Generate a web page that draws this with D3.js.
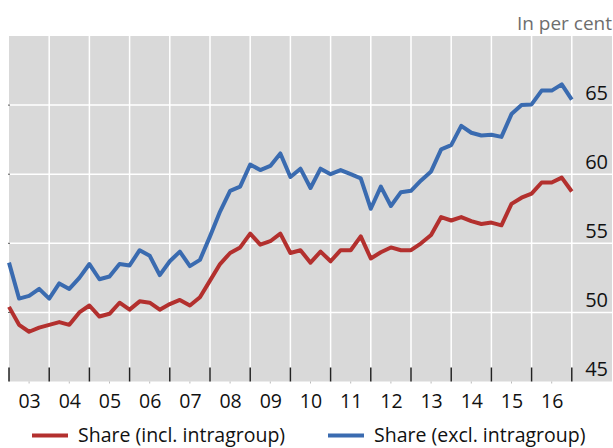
<!DOCTYPE html>
<html>
<head>
  <meta charset="utf-8">
  <title>Share in per cent</title>
  <script src="https://d3js.org/d3.v7.min.js"></script>
  <style>
    body { margin: 0; background: #fff; }
    text { font-family: "Open Sans", "Noto Sans", sans-serif; fill: #111; }
  </style>
</head>
<body>
  <svg id="chart"></svg>

  <script>
    // Quarterly series, first quarter of 2003 to end of 2016
    const startYear = 2003;
    const yearLabels = ["03", "04", "05", "06", "07", "08", "09", "10", "11", "12", "13", "14", "15", "16"];
    const yTicks = [45, 50, 55, 60, 65];

    const shareIncl = [
      50.4, 49.1, 48.6, 48.9, 49.1, 49.3, 49.1, 50.0, 50.5, 49.7,
      49.9, 50.7, 50.2, 50.8, 50.7, 50.2, 50.6, 50.9, 50.5, 51.1,
      52.3, 53.5, 54.3, 54.7, 55.7, 54.9, 55.15, 55.7, 54.3, 54.5,
      53.6, 54.4, 53.7, 54.5, 54.5, 55.5, 53.9, 54.35, 54.7, 54.5,
      54.5, 55.0, 55.6, 56.9, 56.65, 56.9, 56.6, 56.4, 56.5, 56.3,
      57.85, 58.3, 58.6, 59.4, 59.4, 59.75, 58.75
    ];
    const shareExcl = [
      53.6, 51.0, 51.2, 51.7, 51.0, 52.1, 51.7, 52.5, 53.5, 52.4,
      52.6, 53.5, 53.4, 54.5, 54.1, 52.7, 53.7, 54.4, 53.35, 53.8,
      55.5, 57.3, 58.8, 59.1, 60.7, 60.3, 60.6, 61.5, 59.8, 60.4,
      59.0, 60.4, 60.0, 60.3, 60.0, 59.7, 57.5, 59.1, 57.7, 58.7,
      58.8, 59.55, 60.2, 61.8, 62.1, 63.5, 63.0, 62.8, 62.85, 62.7,
      64.35, 65.0, 65.05, 66.05, 66.05, 66.5, 65.4
    ];

    const width = 613, height = 448;
    const plot = { left: 9, right: 612, top: 36, bottom: 381.5 };

    const svg = d3.select("#chart")
      .attr("width", width)
      .attr("height", height);

    const x = d3.scaleLinear()
      .domain([startYear, startYear + yearLabels.length + 1])
      .range([plot.left, plot.right]);

    const y = d3.scaleLinear()
      .domain([45, 70])
      .range([plot.bottom, plot.top]);

    // background
    svg.append("rect")
      .attr("x", plot.left).attr("y", plot.top)
      .attr("width", plot.right - plot.left)
      .attr("height", plot.bottom - plot.top)
      .attr("fill", "#d9d9d9");

    const yearBounds = d3.range(startYear, startYear + yearLabels.length + 1);

    // vertical grid at year boundaries
    svg.append("g")
      .selectAll("line")
      .data(yearBounds.slice(1))
      .join("line")
      .attr("x1", d => x(d)).attr("x2", d => x(d))
      .attr("y1", plot.top).attr("y2", plot.bottom)
      .attr("stroke", "#fff").attr("stroke-width", 1.5);

    // horizontal grid
    svg.append("g")
      .selectAll("line")
      .data(yTicks.slice(1))
      .join("line")
      .attr("x1", plot.left).attr("x2", plot.right)
      .attr("y1", d => y(d)).attr("y2", d => y(d))
      .attr("stroke", "#fff").attr("stroke-width", 1.5);

    // small left ticks
    svg.append("g")
      .selectAll("line")
      .data(yTicks.slice(1))
      .join("line")
      .attr("x1", plot.left - 1).attr("x2", plot.left + 1)
      .attr("y1", d => y(d)).attr("y2", d => y(d))
      .attr("stroke", "#555").attr("stroke-width", 1);

    // year ticks inside the plot bottom
    svg.append("g")
      .selectAll("line")
      .data(yearBounds)
      .join("line")
      .attr("x1", d => x(d)).attr("x2", d => x(d))
      .attr("y1", plot.bottom - 14).attr("y2", plot.bottom)
      .attr("stroke", "#222").attr("stroke-width", 1.5);

    // faint mid-year marks below the plot
    svg.append("g")
      .selectAll("line")
      .data(yearBounds.slice(0, -1))
      .join("line")
      .attr("x1", d => x(d + 0.5)).attr("x2", d => x(d + 0.5))
      .attr("y1", plot.bottom).attr("y2", plot.bottom + 2)
      .attr("stroke", "#bbb").attr("stroke-width", 1);

    // x axis labels
    const xAxis = d3.axisBottom(x)
      .tickValues(yearBounds.slice(0, -1).map(d => d + 0.5))
      .tickFormat((d, i) => yearLabels[i])
      .tickSize(0)
      .tickPadding(0);
    const xg = svg.append("g")
      .attr("transform", `translate(0,${plot.bottom})`)
      .call(xAxis);
    xg.select(".domain").remove();
    xg.selectAll("text")
      .attr("y", 26.5).attr("dy", null)
      .style("font-size", "19.5px").style("fill", "#111");

    // y axis labels on the right, above each grid line
    const yAxis = d3.axisLeft(y)
      .tickValues(yTicks)
      .tickSize(0)
      .tickPadding(0);
    const yg = svg.append("g")
      .attr("transform", "translate(608,0)")
      .call(yAxis);
    yg.select(".domain").remove();
    yg.selectAll("text")
      .attr("dy", -6)
      .style("font-size", "20px").style("fill", "#111")
      .style("text-anchor", "end");

    svg.append("text")
      .attr("x", 612).attr("y", 30)
      .attr("text-anchor", "end")
      .style("font-size", "19px")
      .style("fill", "#6e6e6e")
      .text("In per cent");

    // lines
    const line = d3.line()
      .x((d, i) => x(startYear + i / 4))
      .y(d => y(d));

    svg.append("path")
      .datum(shareIncl)
      .attr("fill", "none")
      .attr("stroke", "#b3302e")
      .attr("stroke-width", 4)
      .attr("stroke-linejoin", "round")
      .attr("d", line);

    svg.append("path")
      .datum(shareExcl)
      .attr("fill", "none")
      .attr("stroke", "#3a6bb0")
      .attr("stroke-width", 4)
      .attr("stroke-linejoin", "round")
      .attr("d", line);

    // legend
    const legend = [
      { label: "Share (incl. intragroup)", color: "#b3302e", x: 32 },
      { label: "Share (excl. intragroup)", color: "#3a6bb0", x: 328 }
    ];
    const lg = svg.append("g")
      .selectAll("g")
      .data(legend)
      .join("g")
      .attr("transform", d => `translate(${d.x},435.5)`);
    lg.append("line")
      .attr("x1", 0).attr("x2", 36)
      .attr("stroke", d => d.color)
      .attr("stroke-width", 4);
    lg.append("text")
      .attr("x", 46).attr("y", 6.5)
      .style("font-size", "19.5px")
      .text(d => d.label);
  </script>
</body>
</html>
